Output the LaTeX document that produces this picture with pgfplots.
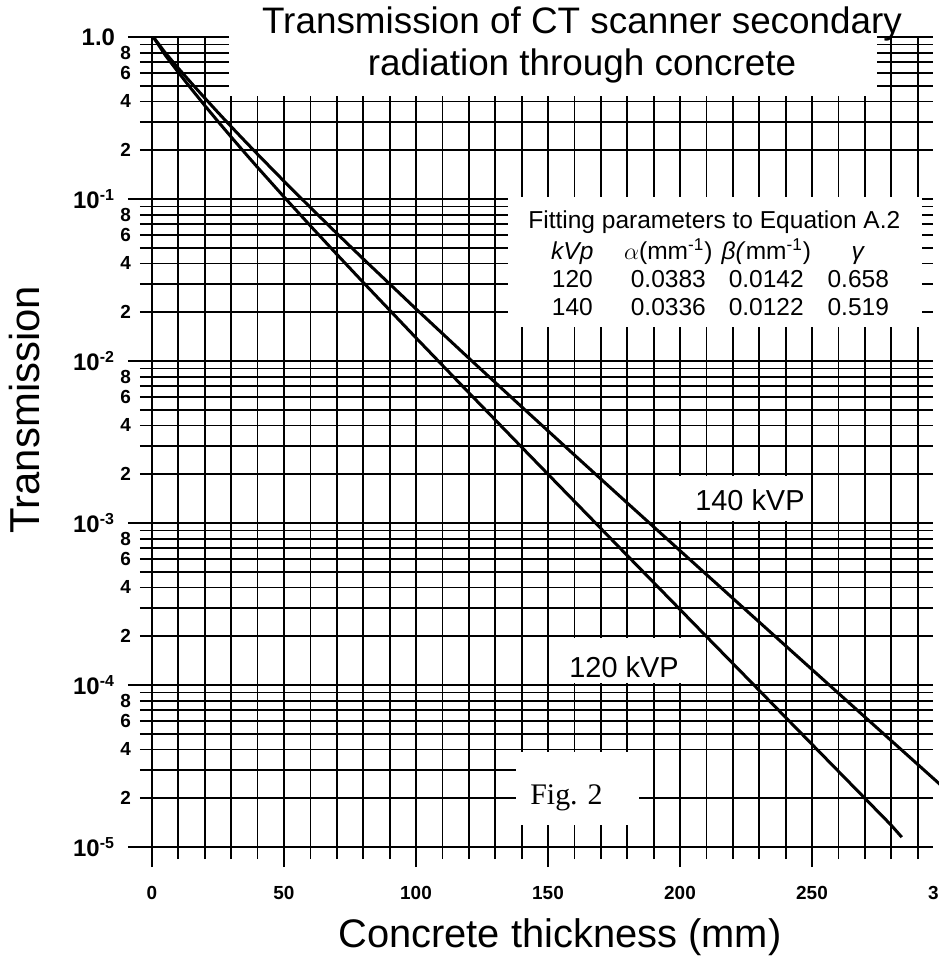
\documentclass[border=0pt]{standalone}
\usepackage{pgfplots}
\pgfplotsset{compat=1.18}
\usepackage{fontspec}
\usepackage{array}
\setmainfont{Liberation Sans}
\newfontfamily\figfont{Liberation Serif}

\newcommand{\tl}{\fontsize{9.5}{10}\selectfont\bfseries}
\newcommand{\dl}{\fontsize{12}{13}\selectfont\bfseries}
\newcommand{\sq}[1]{10\textsuperscript{#1}}

\begin{document}
\begin{tikzpicture}
\begin{axis}[
  at={(0,0)}, anchor=south west,
  scale only axis, width=390.72bp, height=405bp,
  xmin=0, xmax=296, ymode=log, ymin=1e-5, ymax=1,
  clip=false,
  axis line style={draw=none},
  tick align=outside, tick pos=left,
  tick style={black, line width=0.9bp},
  major tick length=6bp, minor tick length=6bp,
  grid=both,
  major grid style={black, line width=0.9bp},
  minor grid style={black, line width=0.9bp},
  /pgf/number format/assume math mode=true,
  xtick={10,20,30,40,60,70,80,90,110,120,130,140,160,170,180,190,
         210,220,230,240,260,270,280,290},
  xticklabels={},
  extra x ticks={0,50,100,150,200,250},
  extra x tick labels={0,50,100,150,200,250},
  extra x tick style={major tick length=10bp, grid=major,
    xticklabel style={font=\tl, yshift=-6bp}},
  ytick={2e-5,4e-5,6e-5,8e-5,2e-4,4e-4,6e-4,8e-4,2e-3,4e-3,6e-3,8e-3,
         2e-2,4e-2,6e-2,8e-2,0.2,0.4,0.6,0.8},
  yticklabels={2,4,6,8,2,4,6,8,2,4,6,8,2,4,6,8,2,4,6,8},
  minor ytick={5e-5,7e-5,9e-5,3e-4,5e-4,7e-4,9e-4,3e-3,5e-3,7e-3,9e-3,
               3e-2,5e-2,7e-2,9e-2,0.3,0.5,0.7,0.9},
  yticklabel style={font=\tl, xshift=-1bp},
  extra y ticks={1e-5,1e-4,1e-3,1e-2,0.1,1},
  extra y tick labels={\sq{-5},\sq{-4},\sq{-3},\sq{-2},\sq{-1},1.0},
  extra y tick style={major tick length=12bp, grid=major,
    yticklabel style={font=\dl, xshift=-2bp}},
  xlabel={Concrete thickness (mm)},
  ylabel={Transmission},
  xlabel style={at={(axis description cs:0.522,-0.111)}, anchor=center,
    font=\fontsize{20}{24}\selectfont},
  ylabel style={at={(axis description cs:-0.1625,0.54)}, anchor=center,
    font=\fontsize{21}{24}\selectfont},
]
% blank panels cut into the grid
\fill[white] (axis cs:29.3,0.43) rectangle (axis cs:274.6,1.2);
\fill[white] (axis cs:135,0.0162) rectangle (axis cs:291.7,0.1025);
\fill[white] (axis cs:199.4,1.03e-3) rectangle (axis cs:249.4,1.96e-3);
\fill[white] (axis cs:150.6,1.03e-4) rectangle (axis cs:205,1.96e-4);
\fill[white] (axis cs:138,1.37e-5) rectangle (axis cs:184.5,3.85e-5);
\draw[line width=0.9bp] ([xshift=-6bp]axis cs:0,3e-5) -- (axis cs:138,3e-5);

% 120 kVp
\addplot[black, line width=1.5bp] coordinates {
  (0.5,1) (5,0.7737) (10,0.6044) (15,0.4761) (20,0.3775) (25,0.3011)
  (30,0.2413) (35,0.1941) (40,0.1567) (50,0.1030) (60,0.06832)
  (70,0.04558) (80,0.03058) (100,0.013901) (120,0.006376) (140,0.002941)
  (160,0.001361) (180,6.305e-4) (200,2.926e-4) (220,1.359e-4)
  (240,6.314e-5) (260,2.934e-5) (280,1.364e-5) (284,1.15e-5)};
% 140 kVp
\addplot[black, line width=1.5bp] coordinates {
  (0.5,1) (5,0.8004) (10,0.6408) (15,0.5176) (20,0.4199) (25,0.3421)
  (30,0.2797) (35,0.2295) (40,0.1889) (50,0.1288) (60,0.08862)
  (70,0.06135) (80,0.04272) (100,0.02097) (120,0.010416) (140,0.005219)
  (160,0.002630) (180,0.0013302) (200,6.752e-4) (220,3.430e-4)
  (240,1.7466e-4) (260,8.898e-5) (280,4.536e-5) (300,2.314e-5)};

\node[font=\fontsize{14.5}{16}\selectfont] at (axis cs:226.5,1.39e-3) {140 kVP};
\node[font=\fontsize{14.5}{16}\selectfont] at (axis cs:178.8,1.29e-4) {120 kVP};
\node[font=\figfont\fontsize{15}{16}\selectfont] at (axis cs:157,2e-5) {Fig. 2};
\node[font=\tl, anchor=north, yshift=-16bp] at (axis cs:300,1e-5) {300};

\node[font=\fontsize{12.3}{14}\selectfont, inner sep=0pt] at (axis cs:213,0.0383) {%
  \setlength{\tabcolsep}{0pt}%
  \begin{tabular}{>{\centering\arraybackslash}p{46bp}>{\centering\arraybackslash}p{50bp}>{\centering\arraybackslash}p{48bp}>{\centering\arraybackslash}p{44bp}}
  \multicolumn{4}{c}{Fitting parameters to Equation A.2}\\[1bp]
  \textit{kVp} & $\alpha$(mm\textsuperscript{-1}) & \textit{β(}mm\textsuperscript{-1}) & \textit{γ}\\
  120 & 0.0383 & 0.0142 & 0.658\\
  140 & 0.0336 & 0.0122 & 0.519
  \end{tabular}};

\node[font=\fontsize{18.5}{21}\selectfont, align=center]
  at (axis description cs:0.5503,0.99)
  {Transmission of CT scanner secondary\\radiation through concrete};
\end{axis}
\pgfresetboundingbox
\path[use as bounding box] (-76bp,-59bp) rectangle (393.5bp,423.5bp);
\end{tikzpicture}
\end{document}
